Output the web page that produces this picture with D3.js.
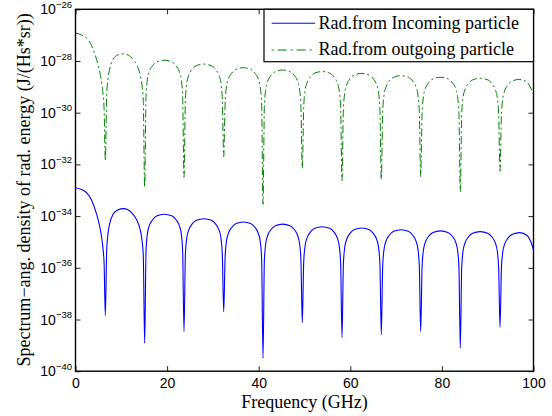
<!DOCTYPE html>
<html><head><meta charset="utf-8">
<script src="https://cdn.jsdelivr.net/npm/d3@7"></script>
<style>body{margin:0;background:#fff}svg{display:block}</style>
</head><body>
<script>
// Frequency grid (GHz), shared by both series
const freqGHz = [
  0, 1.3, 2.6, 3.5, 4.3, 5.0, 5.6, 6.0, 6.25, 6.51,
  6.81, 7.11, 7.51, 8.21, 9.21, 10.5, 12.4, 13.4, 14.1, 14.5, 14.8, 15.10,
  15.40, 15.70, 16.10, 16.80, 17.80, 19.35, 20.99, 21.99, 22.69, 23.09, 23.39, 23.69,
  23.99, 24.29, 24.69, 25.39, 26.39, 28.0, 29.66, 30.66, 31.36, 31.76, 32.06, 32.36,
  32.66, 32.96, 33.36, 34.06, 35.06, 36.65, 38.24, 39.24, 39.94, 40.34, 40.64, 40.94,
  41.24, 41.54, 41.94, 42.64, 43.64, 45.23, 46.82, 47.82, 48.52, 48.92, 49.22, 49.52,
  49.82, 50.12, 50.52, 51.22, 52.22, 53.85, 55.49, 56.49, 57.19, 57.59, 57.89, 58.19,
  58.49, 58.79, 59.19, 59.89, 60.89, 62.48, 64.07, 65.07, 65.77, 66.17, 66.47, 66.77,
  67.07, 67.37, 67.77, 68.47, 69.47, 71.07, 72.67, 73.67, 74.37, 74.77, 75.07, 75.37,
  75.67, 75.97, 76.37, 77.07, 78.07, 79.70, 81.32, 82.32, 83.02, 83.42, 83.72, 84.02,
  84.32, 84.62, 85.02, 85.72, 86.72, 88.35, 89.99, 90.99, 91.69, 92.09, 92.39, 92.69,
  92.99, 93.29, 93.69, 94.39, 95.39, 97.0, 98.6, 99.4, 100
];
// log10 of spectral-angular density, radiation from incoming particle
const incomingExp = [
  -32.90, -32.97, -33.13, -33.38, -33.75, -34.18, -34.70, -35.25, -35.85, -37.85,
  -35.31, -34.66, -34.26, -33.93, -33.76, -33.71, -33.89, -34.16, -34.51, -34.91, -35.51, -38.92,
  -35.33, -34.68, -34.38, -34.15, -33.99, -33.93, -33.99, -34.15, -34.38, -34.68, -35.33, -38.47,
  -35.50, -34.85, -34.55, -34.32, -34.16, -34.10, -34.16, -34.32, -34.55, -34.85, -35.50, -37.70,
  -35.63, -34.98, -34.68, -34.45, -34.29, -34.23, -34.29, -34.45, -34.68, -34.98, -35.63, -39.50,
  -35.71, -35.06, -34.76, -34.53, -34.37, -34.31, -34.37, -34.53, -34.76, -35.06, -35.71, -38.12,
  -35.81, -35.16, -34.86, -34.63, -34.47, -34.41, -34.47, -34.63, -34.86, -35.16, -35.81, -38.70,
  -35.86, -35.21, -34.91, -34.68, -34.52, -34.46, -34.52, -34.68, -34.91, -35.21, -35.86, -38.59,
  -35.93, -35.28, -34.98, -34.75, -34.59, -34.53, -34.59, -34.75, -34.98, -35.28, -35.93, -38.46,
  -35.97, -35.32, -35.02, -34.79, -34.63, -34.57, -34.63, -34.79, -35.02, -35.32, -35.97, -39.11,
  -36.00, -35.35, -35.05, -34.82, -34.66, -34.60, -34.66, -34.82, -35.05, -35.35, -36.00, -38.30,
  -36.04, -35.39, -35.09, -34.86, -34.70, -34.64, -34.75, -34.98, -35.30
];
// log10 of spectral-angular density, radiation from outgoing particle
const outgoingExp = [
  -26.92, -26.99, -27.15, -27.40, -27.77, -28.20, -28.72, -29.27, -29.87, -31.86,
  -29.32, -28.67, -28.27, -27.94, -27.77, -27.72, -27.90, -28.17, -28.52, -28.92, -29.52, -32.89,
  -29.37, -28.72, -28.42, -28.19, -28.03, -27.97, -28.03, -28.19, -28.42, -28.72, -29.37, -32.50,
  -29.52, -28.87, -28.57, -28.34, -28.18, -28.12, -28.18, -28.34, -28.57, -28.87, -29.52, -31.70,
  -29.66, -29.01, -28.71, -28.48, -28.32, -28.26, -28.32, -28.48, -28.71, -29.01, -29.66, -33.54,
  -29.75, -29.10, -28.80, -28.57, -28.41, -28.35, -28.41, -28.57, -28.80, -29.10, -29.75, -32.15,
  -29.81, -29.16, -28.86, -28.63, -28.47, -28.41, -28.47, -28.63, -28.86, -29.16, -29.81, -32.63,
  -29.88, -29.23, -28.93, -28.70, -28.54, -28.48, -28.54, -28.70, -28.93, -29.23, -29.88, -32.58,
  -29.97, -29.32, -29.02, -28.79, -28.63, -28.57, -28.63, -28.79, -29.02, -29.32, -29.97, -32.48,
  -30.03, -29.38, -29.08, -28.85, -28.69, -28.63, -28.69, -28.85, -29.08, -29.38, -30.03, -33.06,
  -30.07, -29.42, -29.12, -28.89, -28.73, -28.67, -28.73, -28.89, -29.12, -29.42, -30.07, -32.26,
  -30.11, -29.46, -29.16, -28.93, -28.77, -28.71, -28.82, -29.05, -29.30
];
const xTickValues = [0, 20, 40, 60, 80, 100];
const yTickExps = [-40, -38, -36, -34, -32, -30, -28, -26];
const seriesNames = ["Rad.from Incoming particle", "Rad.from outgoing particle"];
const xLabel = "Frequency (GHz)";
const yLabel = "Spectrum\u2212ang. density of rad. energy (J/(Hs*sr))";

const W = 552, H = 416;
const plotL = 75.5, plotR = 533.5, plotT = 9.3, plotB = 371.2;
const svg = d3.select("body").append("svg").attr("width", W).attr("height", H);
svg.append("rect").attr("width", W).attr("height", H).attr("fill", "#fff");

const x = d3.scaleLinear().domain([0, 100]).range([plotL, plotR]);
const y = d3.scaleLog().domain([1e-40, 1e-26]).range([plotB, plotT]);

svg.append("defs").append("clipPath").attr("id", "clip")
  .append("rect").attr("x", plotL).attr("y", plotT)
  .attr("width", plotR - plotL).attr("height", plotB - plotT);

const incoming = freqGHz.map((f, i) => ({ f, v: Math.pow(10, incomingExp[i]) }));
const outgoing = freqGHz.map((f, i) => ({ f, v: Math.pow(10, outgoingExp[i]) }));

const line = d3.line().x(d => x(d.f)).y(d => y(d.v)).curve(d3.curveMonotoneX);
const gLines = svg.append("g").attr("clip-path", "url(#clip)");
gLines.append("path").datum(outgoing).attr("d", line)
  .attr("fill", "none").attr("stroke", "#008000").attr("stroke-width", 1)
  .attr("stroke-dasharray", "8,3,2,3");
gLines.append("path").datum(incoming).attr("d", line)
  .attr("fill", "none").attr("stroke", "#0000ff").attr("stroke-width", 1.1);

// axes (ticks inward)
const tickFont = "'Liberation Sans', Arial, Helvetica, sans-serif";
const axB = svg.append("g").attr("transform", `translate(0,${plotB})`)
  .call(d3.axisBottom(x).tickValues(xTickValues).tickSize(-5).tickPadding(7).tickFormat(d3.format("d")));
axB.selectAll("text").attr("font-family", tickFont).attr("font-size", 14).attr("fill", "#000");
const axT = svg.append("g").attr("transform", `translate(0,${plotT})`)
  .call(d3.axisTop(x).tickValues(xTickValues).tickSize(-5).tickFormat(""));
const yTickVals = yTickExps.map(e => Math.pow(10, e));
const axL = svg.append("g").attr("transform", `translate(${plotL},0)`)
  .call(d3.axisLeft(y).tickValues(yTickVals).tickSize(-5).tickFormat(""));
const axR = svg.append("g").attr("transform", `translate(${plotR},0)`)
  .call(d3.axisRight(y).tickValues(yTickVals).tickSize(-5).tickFormat(""));
[axB, axT, axL, axR].forEach(a => {
  a.select(".domain").remove();
  a.selectAll(".tick line").attr("stroke", "#222").attr("stroke-width", 1);
});

// box
svg.append("rect").attr("x", plotL).attr("y", plotT)
  .attr("width", plotR - plotL).attr("height", plotB - plotT)
  .attr("fill", "none").attr("stroke", "#000").attr("stroke-width", 1.4);

// y tick labels 10^e
const yl = svg.append("g").selectAll("text").data(yTickExps).enter().append("text")
  .attr("x", 72).attr("y", e => y(Math.pow(10, e)) + 5)
  .attr("text-anchor", "end").attr("font-family", tickFont).attr("fill", "#000");
yl.append("tspan").attr("font-size", 14).text("10");
yl.append("tspan").attr("font-size", 9.5).attr("dy", -6.5).text(e => "\u2212" + Math.abs(e));

// axis labels
const serif = "'Liberation Serif', 'Times New Roman', Times, serif";
svg.append("text").attr("x", (plotL + plotR) / 2).attr("y", 407.5)
  .attr("text-anchor", "middle").attr("font-family", serif).attr("font-size", 18)
  .attr("fill", "#000").text(xLabel);
svg.append("text").attr("transform", "translate(29.5,190) rotate(-90)")
  .attr("text-anchor", "middle").attr("font-family", serif).attr("font-size", 18)
  .attr("fill", "#000").text(yLabel);

// legend
const lg = svg.append("g");
lg.append("rect").attr("x", 264).attr("y", plotT).attr("width", plotR - 264).attr("height", 61.7 - plotT)
  .attr("fill", "#fff").attr("stroke", "#000").attr("stroke-width", 1.2);
const legendRows = [
  { name: seriesNames[0], color: "#0000ff", dash: null, w: 1.1, ly: 23.3, ty: 28.5 },
  { name: seriesNames[1], color: "#008000", dash: "2,4,9,4", w: 1, ly: 50, ty: 55.2 }
];
legendRows.forEach(r => {
  const l = lg.append("line").attr("x1", 271.7).attr("x2", 315).attr("y1", r.ly).attr("y2", r.ly)
    .attr("stroke", r.color).attr("stroke-width", r.w);
  if (r.dash) l.attr("stroke-dasharray", r.dash);
  lg.append("text").attr("x", 318.5).attr("y", r.ty).attr("font-family", serif)
    .attr("font-size", 18).attr("fill", "#000").text(r.name);
});
</script>
</body></html>
